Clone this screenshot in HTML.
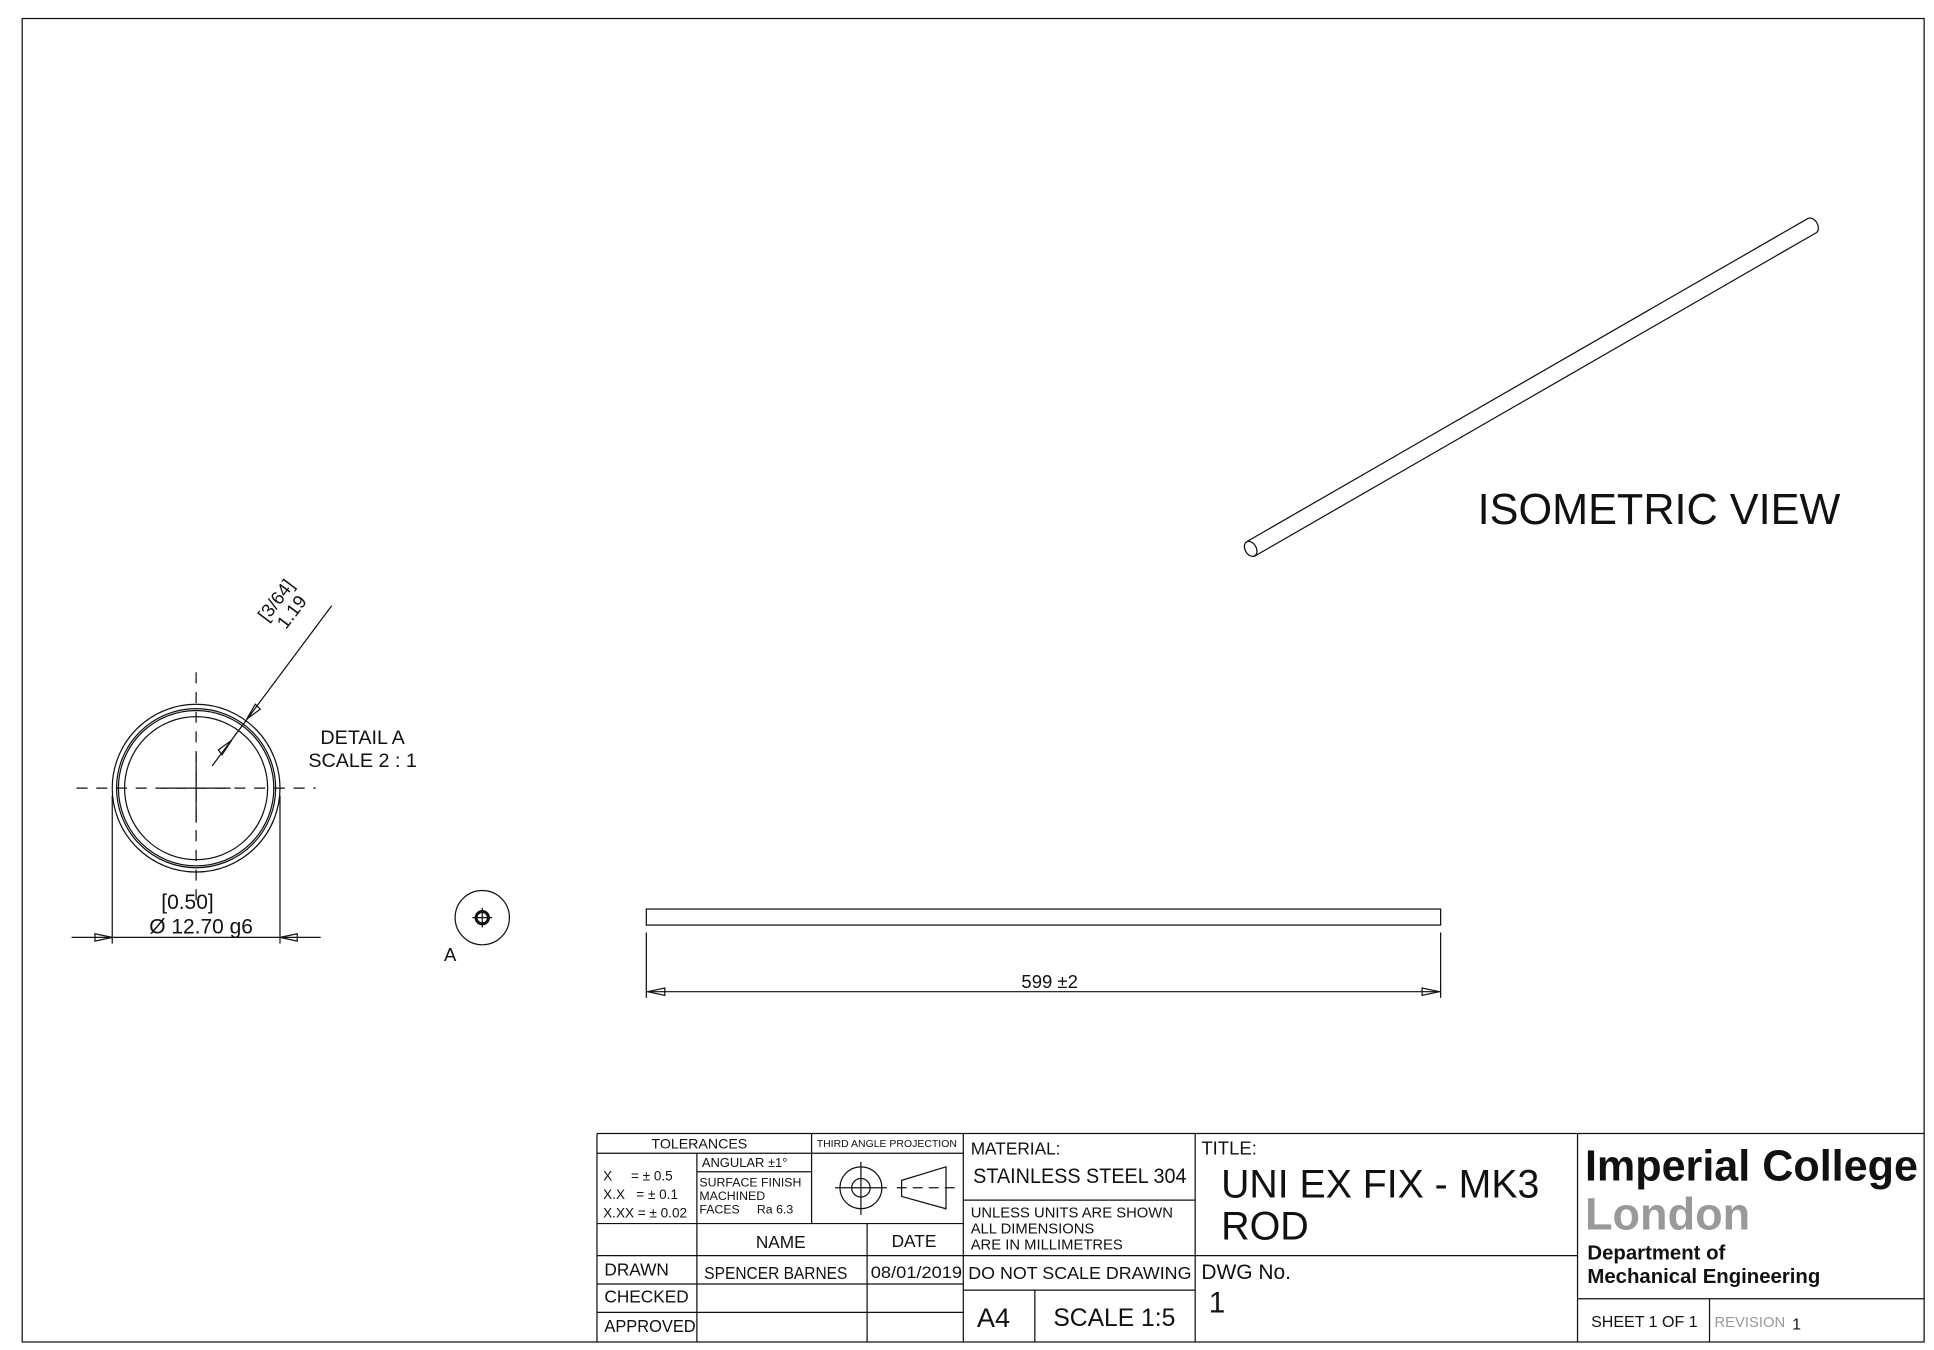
<!DOCTYPE html>
<html><head><meta charset="utf-8"><style>
html,body{margin:0;padding:0;background:#fff}
svg{display:block}
text{font-family:"Liberation Sans",sans-serif;fill:#111}
</style></head><body>
<svg width="1934" height="1350" viewBox="0 0 1568 1094.5" xmlns="http://www.w3.org/2000/svg">
<g fill="none" stroke="#111" stroke-width="1">
<rect x="18" y="15" width="1542" height="1073"/>
<line x1="1011" y1="439" x2="1466" y2="177"/>
<line x1="1017" y1="451" x2="1472" y2="189"/>
<ellipse cx="1014" cy="445" rx="4.5" ry="6.5" transform="rotate(-30 1014 445)"/>
<path d="M1466 177 A4.5 6.5 -30 0 1 1472 189"/>
<rect x="524" y="737" width="644" height="13"/>
<line x1="524" y1="756" x2="524" y2="809"/>
<line x1="1168" y1="756" x2="1168" y2="809"/>
<line x1="524" y1="804" x2="1168" y2="804"/>
<path d="M525 804 L539 801 L539 807 Z M1167 804 L1153 801 L1153 807 Z"/>
<circle cx="159" cy="639" r="68"/>
<circle cx="159" cy="639" r="64.5"/>
<circle cx="159" cy="639" r="63"/>
<circle cx="159" cy="639" r="58"/>
<line x1="62" y1="639" x2="256" y2="639" stroke-dasharray="9,7"/>
<line x1="159" y1="545" x2="159" y2="736" stroke-dasharray="9,7"/>
<line x1="131" y1="639" x2="187" y2="639"/>
<line x1="159" y1="611" x2="159" y2="667"/>
<line x1="91" y1="645" x2="91" y2="765"/>
<line x1="227" y1="645" x2="227" y2="765"/>
<line x1="58" y1="760" x2="260" y2="760"/>
<path d="M91 760 L77 757 L77 763 Z M227 760 L241 757 L241 763 Z"/>
<line x1="269" y1="491" x2="172" y2="621"/>
<path d="M200 583 L207 571 L211 575 Z M188 600 L180 612 L177 608 Z"/>
<circle cx="391" cy="744" r="22"/>
<circle cx="391" cy="744" r="5" stroke-width="2.5"/>
<line x1="391" y1="736" x2="391" y2="752"/>
<line x1="383" y1="744" x2="399" y2="744"/>
<line x1="484" y1="919" x2="1560" y2="919"/>
<line x1="484" y1="919" x2="484" y2="1088"/>
<line x1="484" y1="935" x2="781" y2="935"/>
<line x1="565" y1="950" x2="658" y2="950"/>
<line x1="484" y1="992" x2="781" y2="992"/>
<line x1="484" y1="1018" x2="781" y2="1018"/>
<line x1="484" y1="1041" x2="781" y2="1041"/>
<line x1="484" y1="1064" x2="781" y2="1064"/>
<line x1="565" y1="935" x2="565" y2="992"/>
<line x1="565" y1="1018" x2="565" y2="1088"/>
<line x1="565" y1="992" x2="565" y2="1018"/>
<line x1="658" y1="919" x2="658" y2="992"/>
<line x1="703" y1="992" x2="703" y2="1088"/>
<line x1="781" y1="919" x2="781" y2="1088"/>
<line x1="781" y1="973" x2="969" y2="973"/>
<line x1="781" y1="1018" x2="1279" y2="1018"/>
<line x1="781" y1="1046" x2="969" y2="1046"/>
<line x1="839" y1="1046" x2="839" y2="1088"/>
<line x1="969" y1="919" x2="969" y2="1088"/>
<line x1="1279" y1="919" x2="1279" y2="1088"/>
<line x1="1279" y1="1053" x2="1560" y2="1053"/>
<line x1="1386" y1="1053" x2="1386" y2="1088"/>
<circle cx="698" cy="963" r="17"/>
<circle cx="698" cy="963" r="7.5"/>
<line x1="677" y1="963" x2="719" y2="963"/>
<line x1="698" y1="942" x2="698" y2="985"/>
<path d="M731 957 L767 946 L767 980 L731 970 Z"/>
<line x1="727" y1="963" x2="774" y2="963" stroke-dasharray="8,5"/>
</g>
<text x="1198" y="425" font-size="35" textLength="294" lengthAdjust="spacingAndGlyphs">ISOMETRIC VIEW</text>
<text x="851" y="801" font-size="15" text-anchor="middle">599 ±2</text>
<text x="294" y="603" font-size="16" text-anchor="middle">DETAIL A</text>
<text x="294" y="622" font-size="16" text-anchor="middle">SCALE 2 : 1</text>
<text x="152" y="737" font-size="17" text-anchor="middle">[0.50]</text>
<text x="163" y="757" font-size="17" text-anchor="middle">Ø 12.70 g6</text>
<text x="360" y="779" font-size="15">A</text>
<g transform="translate(231,492) rotate(-53)">
<text x="0" y="-4" font-size="15" text-anchor="middle">[3/64]</text>
<text x="0" y="12" font-size="15" text-anchor="middle">1.19</text>
</g>
<text x="567" y="931" font-size="11.5" text-anchor="middle">TOLERANCES</text>
<text x="719" y="930" font-size="8.5" text-anchor="middle">THIRD ANGLE PROJECTION</text>
<text x="489" y="957" font-size="11">X&#160;&#160;&#160;&#160;&#160;= ± 0.5</text>
<text x="489" y="972" font-size="11">X.X&#160;&#160;&#160;= ± 0.1</text>
<text x="489" y="987" font-size="11">X.XX = ± 0.02</text>
<text x="569" y="946" font-size="10.5">ANGULAR  ±1°</text>
<text x="567" y="962" font-size="10">SURFACE FINISH</text>
<text x="567" y="973" font-size="10">MACHINED</text>
<text x="567" y="984" font-size="10">FACES&#160;&#160;&#160;&#160;&#160;Ra 6.3</text>
<text x="633" y="1012" font-size="14" text-anchor="middle">NAME</text>
<text x="741" y="1011" font-size="14" text-anchor="middle">DATE</text>
<text x="490" y="1034" font-size="14">DRAWN</text>
<text x="571" y="1037" font-size="14" textLength="116" lengthAdjust="spacingAndGlyphs">SPENCER BARNES</text>
<text x="706" y="1036" font-size="13.5" textLength="74" lengthAdjust="spacingAndGlyphs">08/01/2019</text>
<text x="490" y="1056" font-size="14">CHECKED</text>
<text x="490" y="1080" font-size="14" textLength="74" lengthAdjust="spacingAndGlyphs">APPROVED</text>
<text x="787" y="936" font-size="14">MATERIAL:</text>
<text x="789" y="959" font-size="17" textLength="173" lengthAdjust="spacingAndGlyphs">STAINLESS STEEL 304</text>
<text x="787" y="987" font-size="12">UNLESS UNITS ARE SHOWN</text>
<text x="787" y="1000" font-size="12">ALL DIMENSIONS</text>
<text x="787" y="1013" font-size="12">ARE IN MILLIMETRES</text>
<text x="785" y="1037" font-size="14" textLength="181" lengthAdjust="spacingAndGlyphs">DO NOT SCALE DRAWING</text>
<text x="792" y="1076" font-size="22">A4</text>
<text x="854" y="1075" font-size="20">SCALE 1:5</text>
<text x="974" y="936" font-size="15">TITLE:</text>
<text x="990" y="971" font-size="32" textLength="258" lengthAdjust="spacingAndGlyphs">UNI EX FIX - MK3</text>
<text x="990" y="1005" font-size="32">ROD</text>
<text x="974" y="1037" font-size="17">DWG No.</text>
<text x="980" y="1064" font-size="24">1</text>
<text x="1285" y="957" font-size="35" font-weight="bold" textLength="270" lengthAdjust="spacingAndGlyphs">Imperial College</text>
<text x="1285" y="997" font-size="37" font-weight="bold" style="fill:#999" textLength="134" lengthAdjust="spacingAndGlyphs">London</text>
<text x="1287" y="1021" font-size="16.5" font-weight="bold">Department of</text>
<text x="1287" y="1040" font-size="16.5" font-weight="bold">Mechanical Engineering</text>
<text x="1290" y="1076" font-size="13">SHEET 1 OF 1</text>
<text x="1390" y="1076" font-size="12" style="fill:#999">REVISION</text>
<text x="1453" y="1078" font-size="13">1</text>
</svg>
</body></html>
